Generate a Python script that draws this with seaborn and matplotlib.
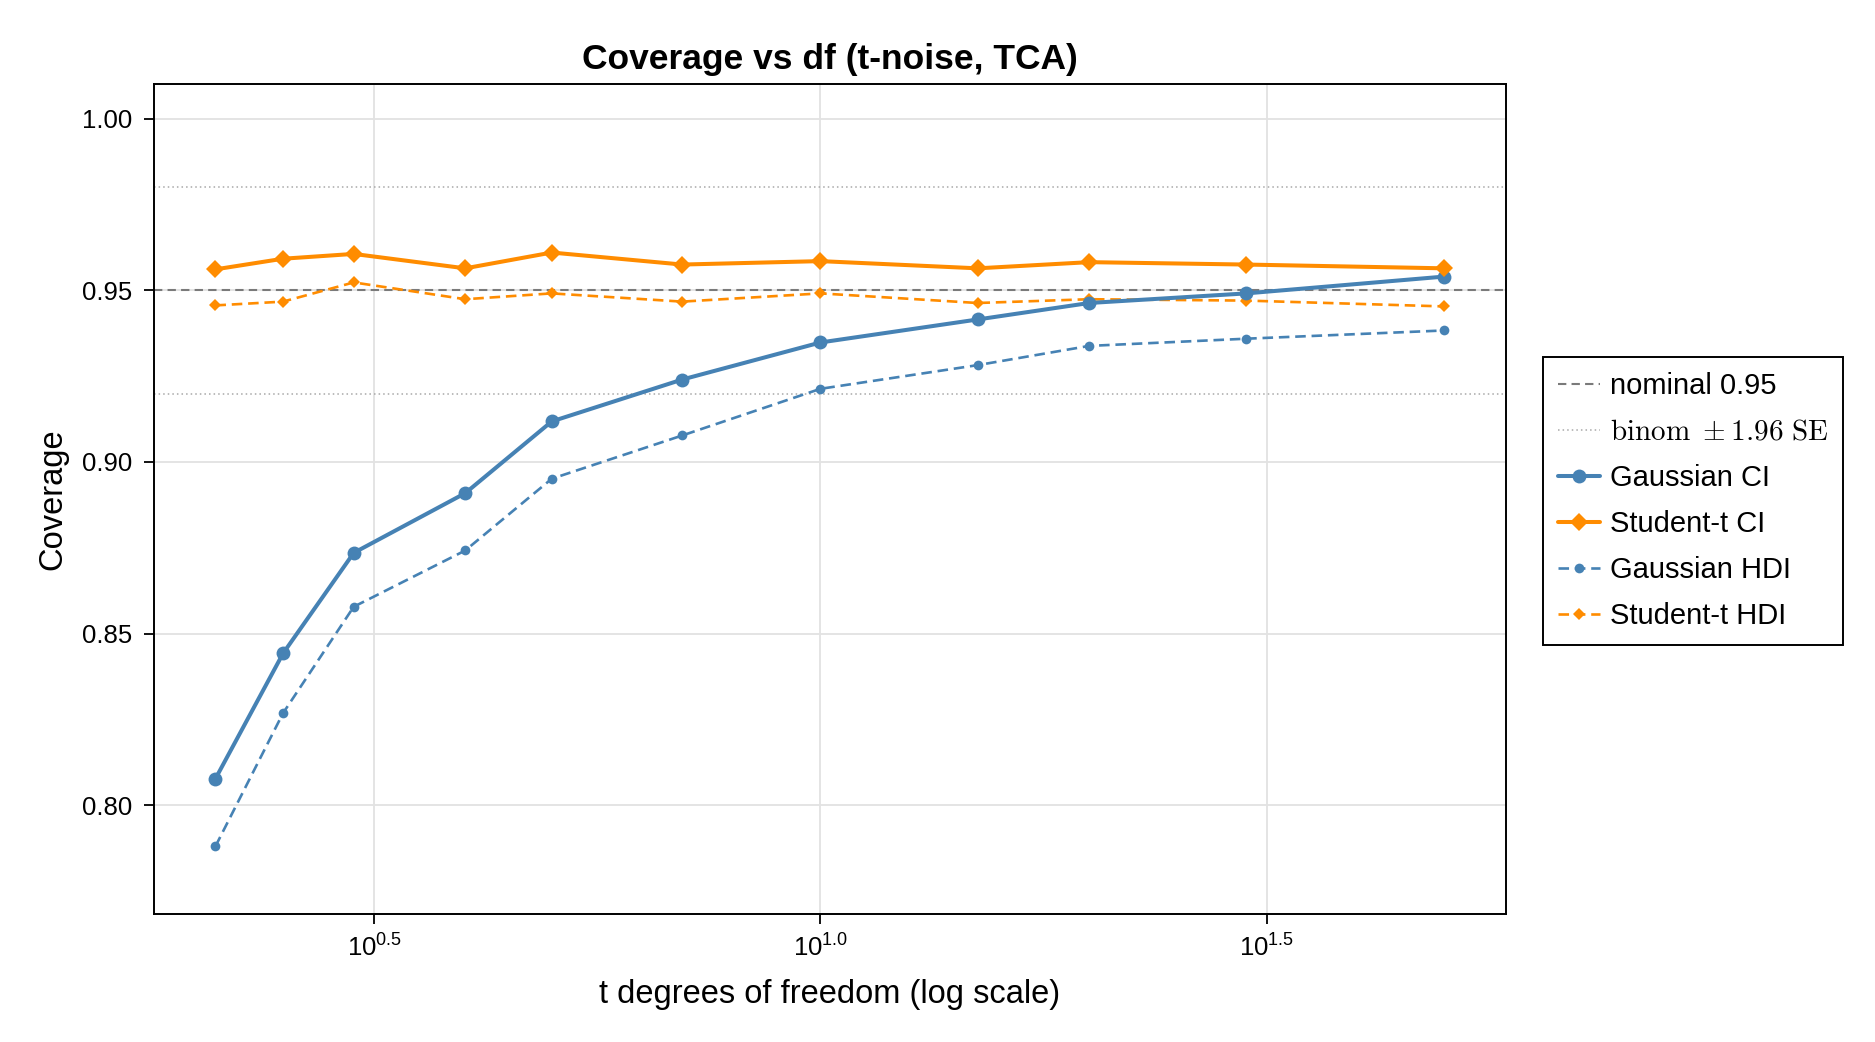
import numpy as np
import pandas as pd
import matplotlib
matplotlib.use("Agg")
import matplotlib.pyplot as plt
import matplotlib.ticker as mticker
import seaborn as sns

# Values
df_vals = [2.1, 2.5, 3, 4, 5, 7, 10, 15, 20, 30, 50]
gauss_ci = [0.8077, 0.8442, 0.8735, 0.8909, 0.9118, 0.9240, 0.9348, 0.9415, 0.9463, 0.9491, 0.9540]
student_ci = [0.9561, 0.9592, 0.9606, 0.9564, 0.9610, 0.9575, 0.9585, 0.9564, 0.9582, 0.9575, 0.9564]
gauss_hdi = [0.7880, 0.8268, 0.8578, 0.8742, 0.8951, 0.9077, 0.9213, 0.9282, 0.9338, 0.9359, 0.9383]
student_hdi = [0.9456, 0.9467, 0.9523, 0.9474, 0.9491, 0.9467, 0.9491, 0.9463, 0.9474, 0.9470, 0.9453]
nominal = 0.95
binom_band = [0.9198, 0.9802]

sns.set_style("white")
plt.rcParams['font.family'] = ['Liberation Sans', 'DejaVu Sans']
plt.rcParams['mathtext.fontset'] = 'custom'
plt.rcParams['mathtext.rm'] = 'Liberation Sans'
plt.rcParams['mathtext.it'] = 'Liberation Sans:italic'
for k in ['text.color', 'axes.labelcolor', 'xtick.color', 'ytick.color']:
    plt.rcParams[k] = 'black'

fig = plt.figure(figsize=(18.75, 10.42), dpi=100)
ax = fig.add_axes([154 / 1875, 1 - 914 / 1042, (1506 - 154) / 1875, (914 - 84) / 1042])

blue = "#4682B4"
orange = "#FF8C00"

ax.axhline(nominal, color="#7a7a7a", linestyle=(0, (4, 2.5)), linewidth=1.5, label="nominal 0.95", zorder=2)
for b in binom_band:
    ax.axhline(b, color="#a8a8a8", linestyle=(0, (1, 2)), linewidth=1.1,
               label=r"$\mathrm{binom}\ \pm 1.96\ \mathrm{SE}$", zorder=2)

sns.lineplot(x=df_vals, y=gauss_ci, ax=ax, color=blue, linewidth=2.9, marker="o",
             markersize=10, markeredgewidth=0, label="Gaussian CI", zorder=4)
sns.lineplot(x=df_vals, y=student_ci, ax=ax, color=orange, linewidth=2.9, marker="D",
             markersize=9.5, markeredgewidth=0, label="Student-t CI", zorder=4)
sns.lineplot(x=df_vals, y=gauss_hdi, ax=ax, color=blue, linewidth=1.9, marker="o",
             markersize=7, markeredgewidth=0, linestyle=(0, (4, 2.2)), label="Gaussian HDI", zorder=3)
sns.lineplot(x=df_vals, y=student_hdi, ax=ax, color=orange, linewidth=1.9, marker="D",
             markersize=6.5, markeredgewidth=0, linestyle=(0, (4, 2.2)), label="Student-t HDI", zorder=3)

ax.set_xscale("log")
ax.set_xlim(10 ** 0.2534, 10 ** 1.768)
ax.set_ylim(0.7683, 1.0101)
ax.xaxis.set_major_locator(mticker.FixedLocator([10 ** 0.5, 10 ** 1.0, 10 ** 1.5]))
ax.xaxis.set_major_formatter(mticker.FixedFormatter([r"$10^{0.5}$", r"$10^{1.0}$", r"$10^{1.5}$"]))
ax.xaxis.set_minor_locator(mticker.NullLocator())
ax.set_yticks([0.80, 0.85, 0.90, 0.95, 1.00])
ax.set_yticklabels(["0.80", "0.85", "0.90", "0.95", "1.00"])

ax.grid(True, color="#e2e2e2", linewidth=1.3, zorder=0)
ax.set_axisbelow(True)
for s in ax.spines.values():
    s.set_color("black")
    s.set_linewidth(1.4)
ax.tick_params(axis="both", which="major", direction="out", length=7.5, width=1.3,
               labelsize=18.5, color="black", bottom=True, left=True)
ax.tick_params(axis="y", pad=8)
ax.tick_params(axis="x", pad=7)

ax.set_title("Coverage vs df (t-noise, TCA)", fontsize=25.5, fontweight="bold", pad=11)
ax.set_xlabel("t degrees of freedom (log scale)", fontsize=23.5, labelpad=13)
ax.set_ylabel("Coverage", fontsize=23.5, labelpad=10)

handles, labels = ax.get_legend_handles_labels()
seen = {}
for h, l in zip(handles, labels):
    if l not in seen:
        seen[l] = h
if ax.legend_:
    ax.legend_.remove()
leg = fig.legend(list(seen.values()), list(seen.keys()), loc="center left",
                 bbox_to_anchor=(1543 / 1875, 1 - 501 / 1042), borderaxespad=0, fontsize=21,
                 frameon=True, fancybox=False, framealpha=1, edgecolor="black",
                 handlelength=1.46, handletextpad=0.35, labelspacing=0.62,
                 borderpad=0.5)
leg.get_frame().set_linewidth(1.4)
for t in leg.get_texts():
    if "binom" in t.get_text():
        t.set_math_fontfamily("cm")

fig.savefig("out.png", dpi=100)
